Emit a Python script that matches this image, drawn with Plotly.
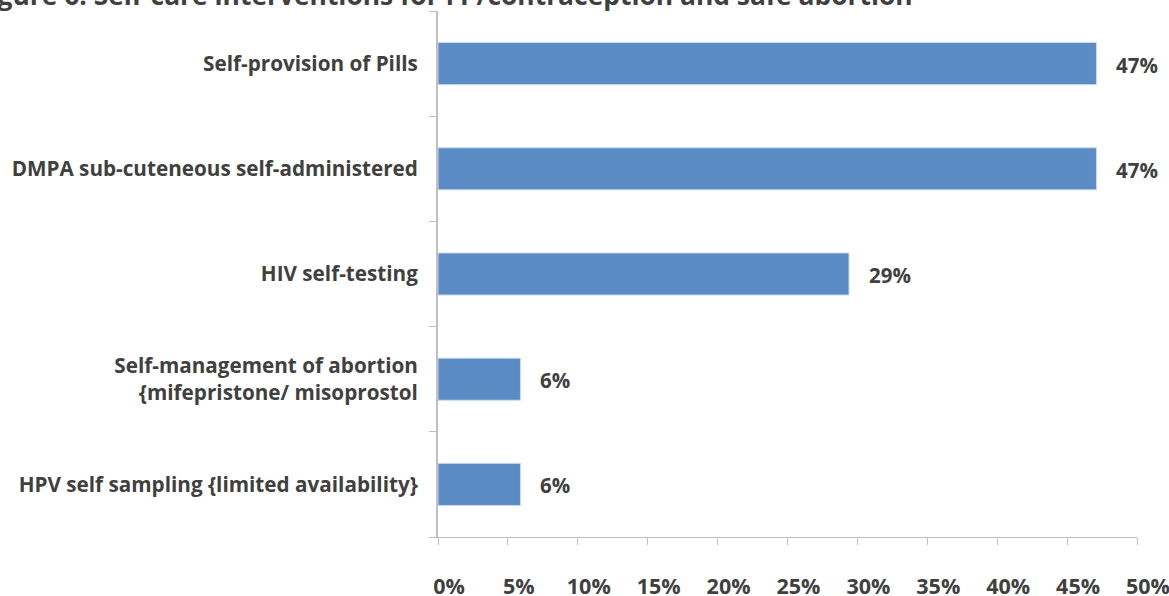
import plotly.graph_objects as go

categories = [
    "Self-provision of Pills",
    "DMPA sub-cuteneous self-administered",
    "HIV self-testing",
    "Self-management of abortion<br>{mifepristone/ misoprostol",
    "HPV self sampling {limited availability}",
]
values = [47.1, 47.1, 29.4, 5.9, 5.9]
labels = ["47%", "47%", "29%", "6%", "6%"]
tick_vals = [0, 5, 10, 15, 20, 25, 30, 35, 40, 45, 50]
tick_text = ["0%", "5%", "10%", "15%", "20%", "25%", "30%", "35%", "40%", "45%", "50%"]
title = "Figure 6: Self-care interventions for FP/contraception and safe abortion"

FONT = "Open Sans"
TXT = "#404040"

fig = go.Figure()
fig.add_trace(go.Bar(
    y=categories, x=values, orientation="h",
    marker=dict(color="#5B8BC4", line=dict(color="#C9D9EE", width=1)),
    hoverinfo="skip",
))

for c, v, t in zip(categories, values, labels):
    fig.add_annotation(x=v, y=c, text="<b>%s</b>" % t, showarrow=False,
                       xanchor="left", xshift=18, yshift=-1,
                       font=dict(family=FONT, size=20.5, color=TXT))

L, R, T, B = 438, 32, 11, 59
W, H = 1169, 596
pw, ph = W - L - R, H - T - B
fig.add_annotation(xref="paper", yref="paper",
                   x=(-27 - L) / pw, y=1 + 16 / ph,
                   xanchor="left", yanchor="middle", showarrow=False,
                   text="<b>%s</b>" % title,
                   font=dict(family=FONT, size=26.4, color=TXT))

fig.update_layout(
    width=W, height=H,
    margin=dict(l=L, r=R, t=T, b=B, pad=0),
    plot_bgcolor="white", paper_bgcolor="white",
    showlegend=False,
    bargap=0.6,
    font=dict(family=FONT, color=TXT),
    xaxis=dict(range=[0, 50], tickvals=tick_vals, ticktext=tick_text,
               automargin=False, ticklabeloverflow="allow",
               showgrid=False, zeroline=False,
               showline=True, linecolor="#BFBFBF", linewidth=1,
               ticks="outside", ticklen=7, tickcolor="#BFBFBF",
               ticklabelstandoff=23, ticklabelshift=11,
               tickfont=dict(family=FONT, size=21.5, color=TXT, weight="bold")),
    yaxis=dict(categoryorder="array", categoryarray=categories[::-1],
               automargin=False,
               autorange=True, showgrid=False, zeroline=False,
               showline=True, linecolor="#BFBFBF", linewidth=2,
               ticks="outside", ticklen=7, tickcolor="#BFBFBF",
               tickson="boundaries", ticklabelstandoff=14,
               tickfont=dict(family=FONT, size=20.7, color=TXT, weight="bold")),
)

fig.write_html("out.html", config={"displayModeBar": False},
               post_script="document.body.style.margin='0';document.body.style.overflow='hidden';")
